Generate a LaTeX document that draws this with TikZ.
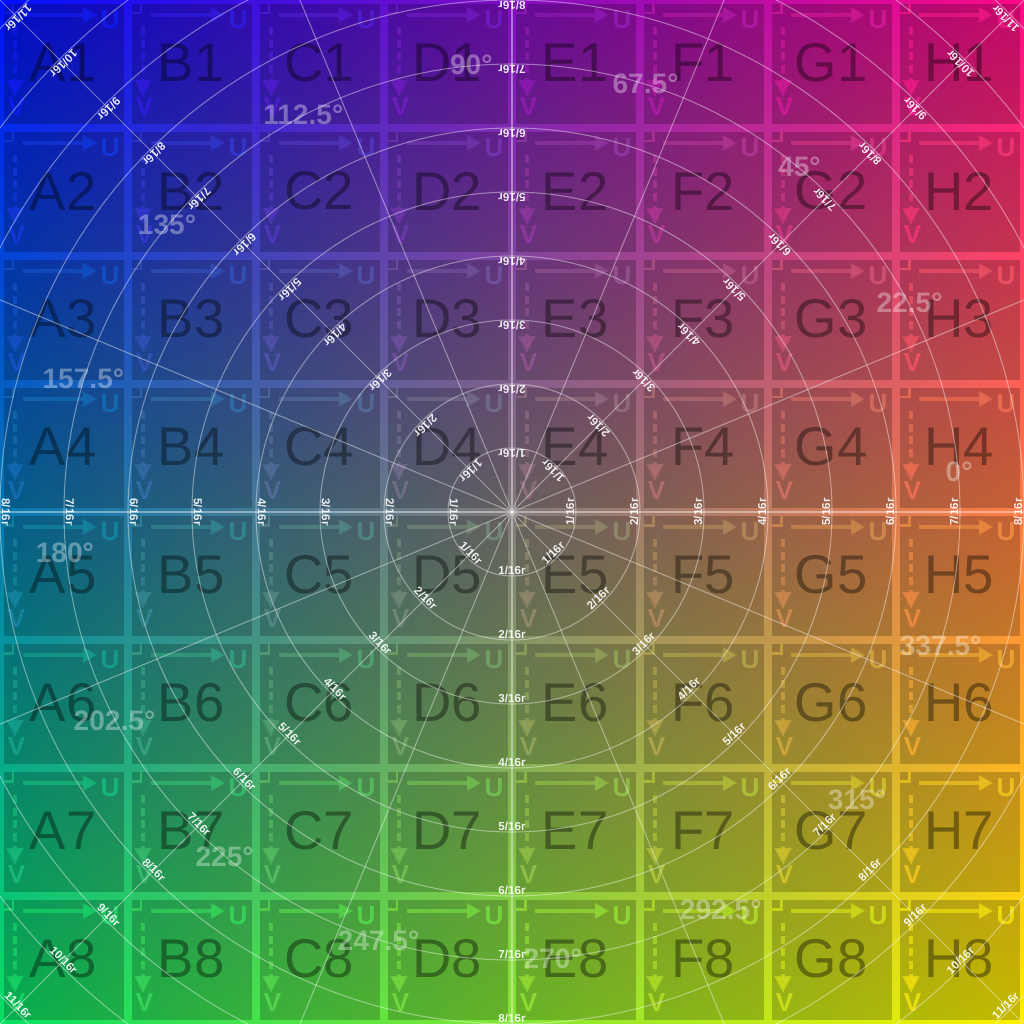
\documentclass[tikz,border=0pt]{standalone}
\usepackage{fontspec}
\setmainfont{Liberation Sans}
\usepackage{tikz}
\usetikzlibrary{arrows.meta, fadings}
\definecolor{tlcolor}{RGB}{0,16,255}
\definecolor{trcolor}{RGB}{255,10,135}
\definecolor{blcolor}{RGB}{10,225,100}
\definecolor{brcolor}{RGB}{255,240,0}
\colorlet{cellbase}{white}
\tikzfading[name=fadedown, top color=transparent!100, bottom color=transparent!0]

\begin{document}
\begin{tikzpicture}[
    x=0.01cm, y=0.01cm,
    inner/.style={fill=black, fill opacity=0.22},
    bracket/.style={draw=cellbase, opacity=0.8, line width=0.85pt},
    uarrow/.style={draw=cellbase, opacity=0.7, line width=0.95pt,
                   -{Triangle[length=4pt, width=4.3pt]}},
    varrow/.style={draw=cellbase, opacity=0.7, line width=1.1pt,
                   dash pattern=on 2.3pt off 1.3pt,
                   -{Triangle[length=4.8pt, width=4.6pt]}},
    axislabel/.style={text=cellbase, text opacity=0.9, inner sep=0pt,
                      font=\fontsize{7.4}{7.4}\selectfont\bfseries},
    cellname/.style={text=black, text opacity=0.38, inner sep=0pt,
                     font=\fontsize{15.5}{15.5}\selectfont},
    gridline/.style={draw=white, draw opacity=0.4, line width=0.3pt},
    ringlabel/.style={text=white, text opacity=0.9, inner sep=0pt,
                      font=\fontsize{3.3}{3.3}\selectfont\bfseries},
    anglelabel/.style={text=white, text opacity=0.35, inner sep=0pt,
                       font=\fontsize{8}{8}\selectfont\bfseries}
]
    \useasboundingbox (0,0) rectangle (1024,-1024);
    \clip (0,0) rectangle (1024,-1024);

    % Background gradient
    \shade[left color=tlcolor, right color=trcolor] (0,0) rectangle (1024,-1024);
    \shade[left color=blcolor, right color=brcolor, path fading=fadedown]
        (0,0) rectangle (1024,-1024);

    % Cells
    \foreach \c/\col in {0/A,1/B,2/C,3/D,4/E,5/F,6/G,7/H} {
        \foreach \r in {0,...,7} {
            \pgfmathsetmacro{\u}{(128*\c+64)/10.24}
            \pgfmathsetmacro{\v}{(128*\r+64)/10.24}
            \pgfmathtruncatemacro{\rn}{\r+1}
            \colorlet{rowtop}{trcolor!\u!tlcolor}
            \colorlet{rowbot}{brcolor!\u!blcolor}
            \colorlet{cellbase}{rowbot!\v!rowtop}
            \begin{scope}[shift={(128*\c,-128*\r)}]
                \fill[inner] (4,-4) rectangle (124,-124);
                \draw[bracket] (4,-13) -- (13,-13) -- (13,-4);
                \draw[uarrow] (23,-15) -- (97,-15);
                \draw[varrow] (15,-27) -- (15,-97);
                \node[axislabel] (u\col\rn) at (110,-20) {U};
                \node[axislabel] (v\col\rn) at (16.5,-107) {V};
                \node[cellname] (cell\col\rn) at (63,-63) {\col\rn};
            \end{scope}
        }
    }

    % Polar overlay
    \begin{scope}[shift={(512,-512)}]
        \foreach \k in {1,...,11}
            \draw[gridline] (0,0) circle[radius=64*\k];
        \foreach \a in {0,22.5,45,67.5,90,112.5,135,157.5,180,202.5,225,247.5,270,292.5,315,337.5}
            \draw[gridline] (0,0) -- (\a:800);

        % Angle labels
        \foreach \a [count=\i] in {0,22.5,45,67.5,90,112.5,135,157.5,180,202.5,225,247.5,270,292.5,315,337.5}
            \node[anglelabel] (deg\i) at (\a+5.2:449) {\a°};

        % Ring labels
        \foreach \d in {0,90,180,270}
            \foreach \k in {1,...,8}
                \node[ringlabel, rotate=\d+90] (rad\d-\k) at (\d:64*\k-6) {\k/16r};
        \foreach \d in {45,135,225,315}
            \foreach \k in {1,...,11}
                \node[ringlabel, rotate=\d+90] (rad\d-\k) at (\d:64*\k-6) {\k/16r};
    \end{scope}

\end{tikzpicture}
\end{document}
